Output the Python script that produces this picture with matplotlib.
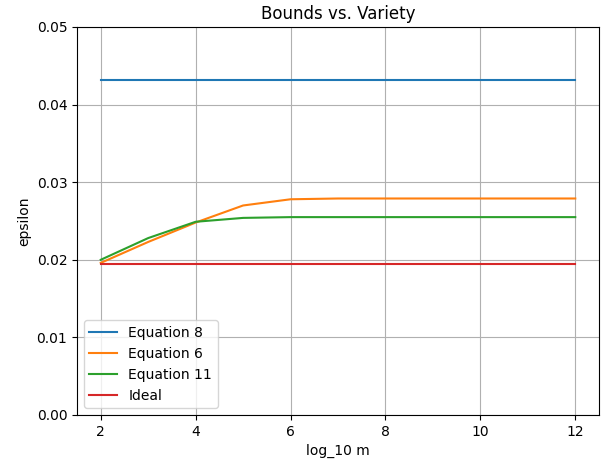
import matplotlib
matplotlib.use("Agg")
import matplotlib.pyplot as plt

log_m = [2, 3, 4, 5, 6, 7, 8, 9, 10, 11, 12]
eq8 = [0.0432] * 11
eq6 = [0.0196, 0.0223, 0.0248, 0.0270, 0.0278, 0.0279, 0.0279, 0.0279, 0.0279, 0.0279, 0.0279]
eq11 = [0.0200, 0.0228, 0.0249, 0.0254, 0.0255, 0.0255, 0.0255, 0.0255, 0.0255, 0.0255, 0.0255]
ideal = [0.0195] * 11

fig = plt.figure(figsize=(6.05, 4.66), dpi=100)
ax = fig.add_axes([77 / 605, 1 - 415 / 466, 522 / 605, 388 / 466])

ax.plot(log_m, eq8, label="Equation 8")
ax.plot(log_m, eq6, label="Equation 6")
ax.plot(log_m, eq11, label="Equation 11")
ax.plot(log_m, ideal, label="Ideal")

ax.set_ylim(0, 0.05)
ax.set_title("Bounds vs. Variety")
ax.set_xlabel("log_10 m")
ax.set_ylabel("epsilon")
ax.grid(True)
ax.legend(loc="lower left")

fig.savefig("out.png", dpi=100)
